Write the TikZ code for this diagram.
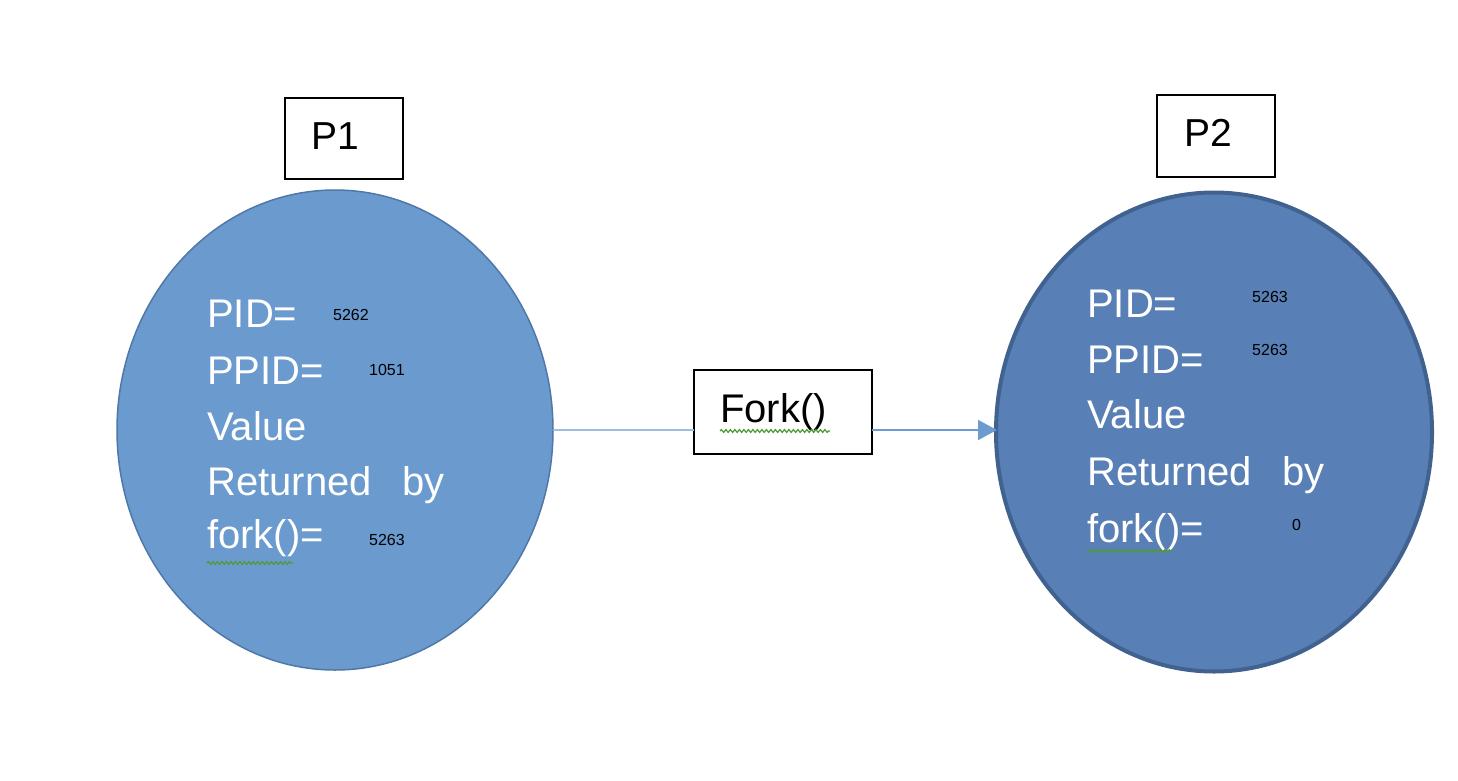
\documentclass[tikz,border=0pt]{standalone}
\usepackage{fontspec}
\setmainfont{Liberation Sans}
\usetikzlibrary{shapes.geometric,arrows.meta,decorations.pathmorphing}
\definecolor{fillA}{HTML}{6A9ACE}
\definecolor{edgeA}{HTML}{4F78A8}
\definecolor{fillB}{HTML}{5880B6}
\definecolor{edgeB}{HTML}{41618F}
\definecolor{lineA}{HTML}{9DBEE0}
\definecolor{lineB}{HTML}{6E9BCF}
\definecolor{squig}{HTML}{4E9A3A}
\tikzset{
  procbox/.style={draw=black, line width=1.8pt, fill=white},
  bigtxt/.style={anchor=base west, inner sep=0pt, text=white, font=\fontsize{40}{48}\selectfont},
  smalltxt/.style={anchor=base west, inner sep=0pt, text=black, font=\fontsize{16}{19}\selectfont},
  labtxt/.style={anchor=base west, inner sep=0pt, text=black, font=\fontsize{39}{46}\selectfont},
  wavy/.style={draw=squig, line width=1.2pt, decorate, decoration={snake, amplitude=1.4pt, segment length=4.5pt}},
}
\begin{document}
\begin{tikzpicture}[x=1pt, y=-1pt]
\useasboundingbox (0,0) rectangle (1458,780);
% boxes
\draw[procbox] (285,98) rectangle (403,179);
\node[labtxt] (p1) at (311,149) {P1};
\draw[procbox] (1157,95) rectangle (1275,177);
\node[labtxt] (p2) at (1184,146) {P2};
% ellipses
\node[ellipse, draw=edgeA, line width=1.5pt, fill=fillA, minimum width=436pt, minimum height=480pt, inner sep=0pt] (e1) at (335,430) {};
\node[ellipse, draw=edgeB, line width=4pt, fill=fillB, minimum width=436pt, minimum height=479pt, inner sep=0pt] (e2) at (1214,432) {};
% fork box
\node[draw=black, line width=1.8pt, fill=white, minimum width=178pt, minimum height=84pt, inner sep=0pt] (fk) at (783,412) {};
\node[labtxt, font=\fontsize{40}{48}\selectfont] (fkt) at (720,422) {Fork()};
\draw[wavy] (720,431) -- (830,431);
% connectors
\coordinate (c1) at (553,430);
\coordinate (c2) at (694,430);
\coordinate (c3) at (872,430);
\coordinate (c4) at (997,430);
\draw[lineA, line width=2pt] (c1) -- (c2);
\draw[lineB, line width=1.6pt, -{Triangle[length=19pt, width=20pt]}] (c3) -- (c4);
% texts in P1
\node[bigtxt] (a1) at (207,327) {PID=};
\node[smalltxt] (a1v) at (333,320) {5262};
\node[bigtxt] (a2) at (207,384) {PPID=};
\node[smalltxt] (a2v) at (369,375) {1051};
\node[bigtxt] (a3) at (207,440) {Value};
\node[bigtxt] (a4) at (207,495) {Returned};
\node[bigtxt] (a4b) at (402,495) {by};
\node[bigtxt] (a5) at (207,548) {fork()=};
\node[smalltxt] (a5v) at (369,545) {5263};
\draw[wavy] (207,563) -- (293,563);
% texts in P2
\node[bigtxt] (b1) at (1087,317) {PID=};
\node[smalltxt] (b1v) at (1252,302) {5263};
\node[bigtxt] (b2) at (1087,373) {PPID=};
\node[smalltxt] (b2v) at (1252,355) {5263};
\node[bigtxt] (b3) at (1087,428) {Value};
\node[bigtxt] (b4) at (1087,485) {Returned};
\node[bigtxt] (b4b) at (1282,485) {by};
\node[bigtxt] (b5) at (1087,542) {fork()=};
\node[smalltxt] (b5v) at (1292,530) {0};
\draw[wavy] (1087,551) -- (1173,551);
\end{tikzpicture}
\end{document}
